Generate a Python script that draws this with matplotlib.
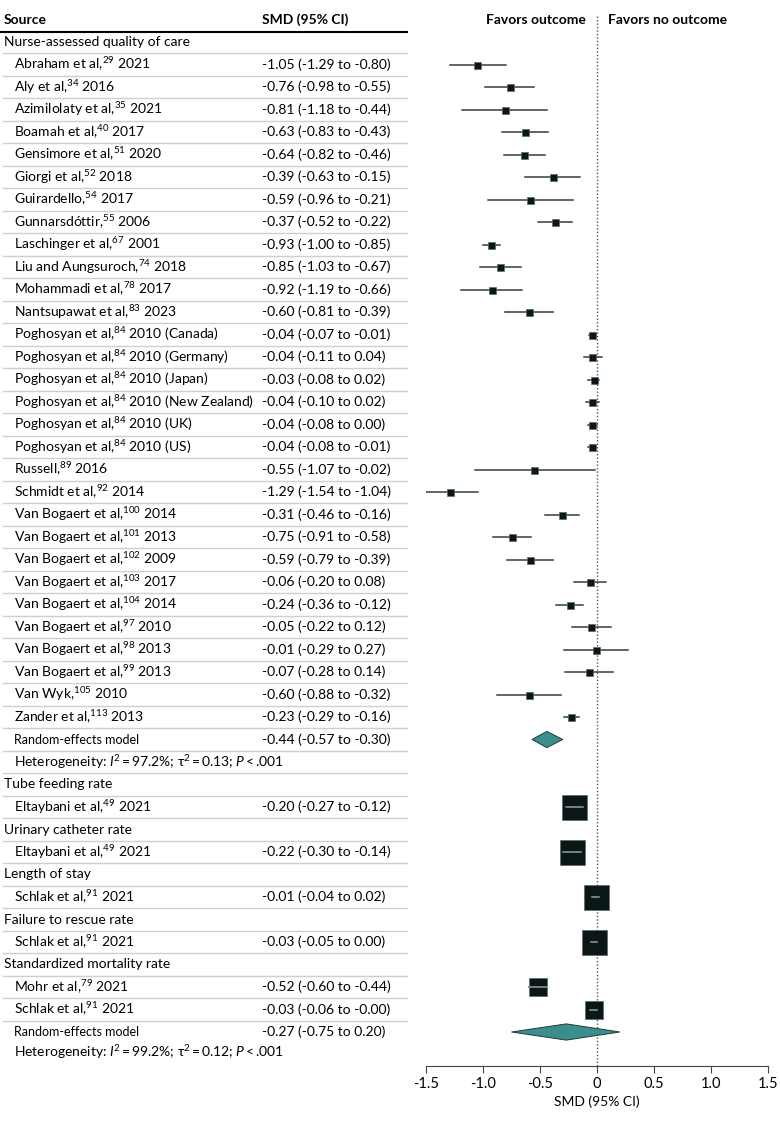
import matplotlib
matplotlib.use("Agg")
import matplotlib.pyplot as plt
import matplotlib.transforms as mtransforms

plt.rcParams['font.family'] = ['Lato', 'DejaVu Sans']
plt.rcParams['mathtext.fontset'] = 'custom'
plt.rcParams['mathtext.rm'] = 'Lato'
plt.rcParams['mathtext.it'] = 'Lato:italic'
plt.rcParams['axes.unicode_minus'] = False

# Subgroups (outcomes)
groups = ["Nurse-assessed quality of care", "Tube feeding rate", "Urinary catheter rate",
          "Length of stay", "Failure to rescue rate", "Standardized mortality rate"]

# Studies: author text, reference number, year text
names = [
    ["Abraham et al", "Aly et al", "Azimilolaty et al", "Boamah et al", "Gensimore et al",
     "Giorgi et al", "Guirardello", "Gunnarsdóttir", "Laschinger et al", "Liu and Aungsuroch",
     "Mohammadi et al", "Nantsupawat et al", "Poghosyan et al", "Poghosyan et al",
     "Poghosyan et al", "Poghosyan et al", "Poghosyan et al", "Poghosyan et al", "Russell",
     "Schmidt et al", "Van Bogaert et al", "Van Bogaert et al", "Van Bogaert et al",
     "Van Bogaert et al", "Van Bogaert et al", "Van Bogaert et al", "Van Bogaert et al",
     "Van Bogaert et al", "Van Wyk", "Zander et al"],
    ["Eltaybani et al"],
    ["Eltaybani et al"],
    ["Schlak et al"],
    ["Schlak et al"],
    ["Mohr et al", "Schlak et al"],
]
refs = [
    ["29", "34", "35", "40", "51", "52", "54", "55", "67", "74", "78", "83", "84", "84", "84",
     "84", "84", "84", "89", "92", "100", "101", "102", "103", "104", "97", "98", "99", "105", "113"],
    ["49"], ["49"], ["91"], ["91"], ["79", "91"],
]
years = [
    ["2021", "2016", "2021", "2017", "2020", "2018", "2017", "2006", "2001", "2018", "2017",
     "2023", "2010 (Canada)", "2010 (Germany)", "2010 (Japan)", "2010 (New Zealand)",
     "2010 (UK)", "2010 (US)", "2016", "2014", "2014", "2013", "2009", "2017", "2014", "2010",
     "2013", "2013", "2010", "2013"],
    ["2021"], ["2021"], ["2021"], ["2021"], ["2021", "2021"],
]
smd = [
    [-1.05, -0.76, -0.81, -0.63, -0.64, -0.39, -0.59, -0.37, -0.93, -0.85, -0.92, -0.60,
     -0.04, -0.04, -0.03, -0.04, -0.04, -0.04, -0.55, -1.29, -0.31, -0.75, -0.59, -0.06,
     -0.24, -0.05, -0.01, -0.07, -0.60, -0.23],
    [-0.20], [-0.22], [-0.01], [-0.03], [-0.52, -0.03],
]
ci_low = [
    [-1.29, -0.98, -1.18, -0.83, -0.82, -0.63, -0.96, -0.52, -1.00, -1.03, -1.19, -0.81,
     -0.07, -0.11, -0.08, -0.10, -0.08, -0.08, -1.07, -1.54, -0.46, -0.91, -0.79, -0.20,
     -0.36, -0.22, -0.29, -0.28, -0.88, -0.29],
    [-0.27], [-0.30], [-0.04], [-0.05], [-0.60, -0.06],
]
ci_high = [
    [-0.80, -0.55, -0.44, -0.43, -0.46, -0.15, -0.21, -0.22, -0.85, -0.67, -0.66, -0.39,
     -0.01, 0.04, 0.02, 0.02, 0.00, -0.01, -0.02, -1.04, -0.16, -0.58, -0.39, 0.08,
     -0.12, 0.12, 0.27, 0.14, -0.32, -0.16],
    [-0.12], [-0.14], [0.02], [0.00], [-0.44, -0.0],
]

# Pooled estimates (only subgroups with more than one study)
pooled_group = [0, 5]
pooled_smd = [-0.44, -0.27]
pooled_low = [-0.57, -0.75]
pooled_high = [-0.30, 0.20]
het_i2 = ["97.2%", "99.2%"]
het_tau2 = ["0.13", "0.12"]

xticks = [-1.5, -1.0, -0.5, 0, 0.5, 1.0, 1.5]
xtick_labels = ["-1.5", "-1.0", "-0.5", "0", "0.5", "1.0", "1.5"]

# square sizes (px) per subgroup, roughly reflecting weights
square_px = [7, 25, 25, 25, 25, 18]

W, H = 780, 1121
fig = plt.figure(figsize=(W / 100, H / 100), dpi=100)

row0_px, row_step = 42, 22.5
ax_top_px, ax_bot_px = 14, 1066
ymax = (ax_bot_px - row0_px) / row_step
ymin = (ax_top_px - row0_px) / row_step
ax = fig.add_axes([426 / W, 1 - ax_bot_px / H, (768 - 426) / W, (ax_bot_px - ax_top_px) / H])
ax.set_xlim(-1.5, 1.5)
ax.set_ylim(ymax, ymin)

tr = mtransforms.blended_transform_factory(fig.transFigure, ax.transData)
fs = 10
SQ = '#0b1717'
TEAL = '#3b8e8b'
thin = '\u2009'


def fx(px):
    return px / W


def sep(y):
    ax.plot([fx(3), fx(407)], [y + 0.5, y + 0.5], transform=tr, color='#cfcfcf',
            lw=1, clip_on=False, zorder=1)


# header
hy = (20 - row0_px) / row_step
ax.text(fx(4), hy, "Source", transform=tr, fontsize=fs, fontweight='bold', va='center')
ax.text(fx(262), hy, "SMD (95% CI)", transform=tr, fontsize=fs, fontweight='bold', va='center')
ax.plot([fx(0), fx(407)], [(32 - row0_px) / row_step] * 2, transform=tr, color='black',
        lw=1.5, clip_on=False)
ax.text(-0.1, hy, "Favors outcome", fontsize=fs, fontweight='bold', va='center', ha='right')
ax.text(0.1, hy, "Favors no outcome", fontsize=fs, fontweight='bold', va='center', ha='left')

row = 0
for g, gname in enumerate(groups):
    ax.text(fx(4), row, gname, transform=tr, fontsize=fs, va='center')
    sep(row)
    row += 1
    for i in range(len(names[g])):
        label = names[g][i] + ",$^{" + refs[g][i] + "}$ " + years[g][i]
        ax.text(fx(14), row, label, transform=tr, fontsize=fs, va='center')
        ci_txt = f"{smd[g][i]:.2f} ({ci_low[g][i]:.2f} to {ci_high[g][i]:.2f})"
        ax.text(fx(262), row, ci_txt, transform=tr, fontsize=fs, va='center')
        ax.plot([ci_low[g][i], ci_high[g][i]], [row, row], color='#3a3a3a', lw=1.1, zorder=2)
        ax.plot(smd[g][i], row, marker='s', ms=square_px[g] * 0.72, color=SQ,
                mec='#5a6a6a', mew=0.5, zorder=3)
        if square_px[g] > 12:
            ax.plot([ci_low[g][i], ci_high[g][i]], [row, row], color='#8fa0a0', lw=1.1, zorder=4)
        sep(row)
        row += 1
    if g in pooled_group:
        k = pooled_group.index(g)
        ax.text(fx(14), row, "Random-effects model", transform=tr, fontsize=fs - 1, va='center')
        ax.text(fx(262), row, f"{pooled_smd[k]:.2f} ({pooled_low[k]:.2f} to {pooled_high[k]:.2f})",
                transform=tr, fontsize=fs, va='center')
        h = 0.36
        ax.fill([pooled_low[k], pooled_smd[k], pooled_high[k], pooled_smd[k]],
                [row, row - h, row, row + h], facecolor=TEAL, edgecolor='#1d3b3b', lw=0.7, zorder=3)
        if g != 5:
            sep(row)
        row += 1
        het = ("Heterogeneity: $I^2$" + thin + "=" + thin + het_i2[k] + "; τ$^2$" + thin + "="
               + thin + het_tau2[k] + "; $P$" + thin + "<" + thin + ".001")
        ax.text(fx(14), row - (0.1 if g == 5 else 0), het, transform=tr, fontsize=fs, va='center')
        if g != 5:
            sep(row)
        row += 1

ax.axvline(0, color='#555555', lw=1, ls=(0, (1, 1.5)), zorder=1)

for s in ['top', 'right', 'left']:
    ax.spines[s].set_visible(False)
ax.spines['bottom'].set_color('#444444')
ax.set_yticks([])
ax.set_xticks(xticks)
ax.set_xticklabels(xtick_labels, fontsize=fs + 0.5)
ax.tick_params(axis='x', length=5, color='#444444', pad=3)
ax.set_xlabel("SMD (95% CI)", fontsize=fs, labelpad=3)

fig.savefig("out.png", dpi=100)
